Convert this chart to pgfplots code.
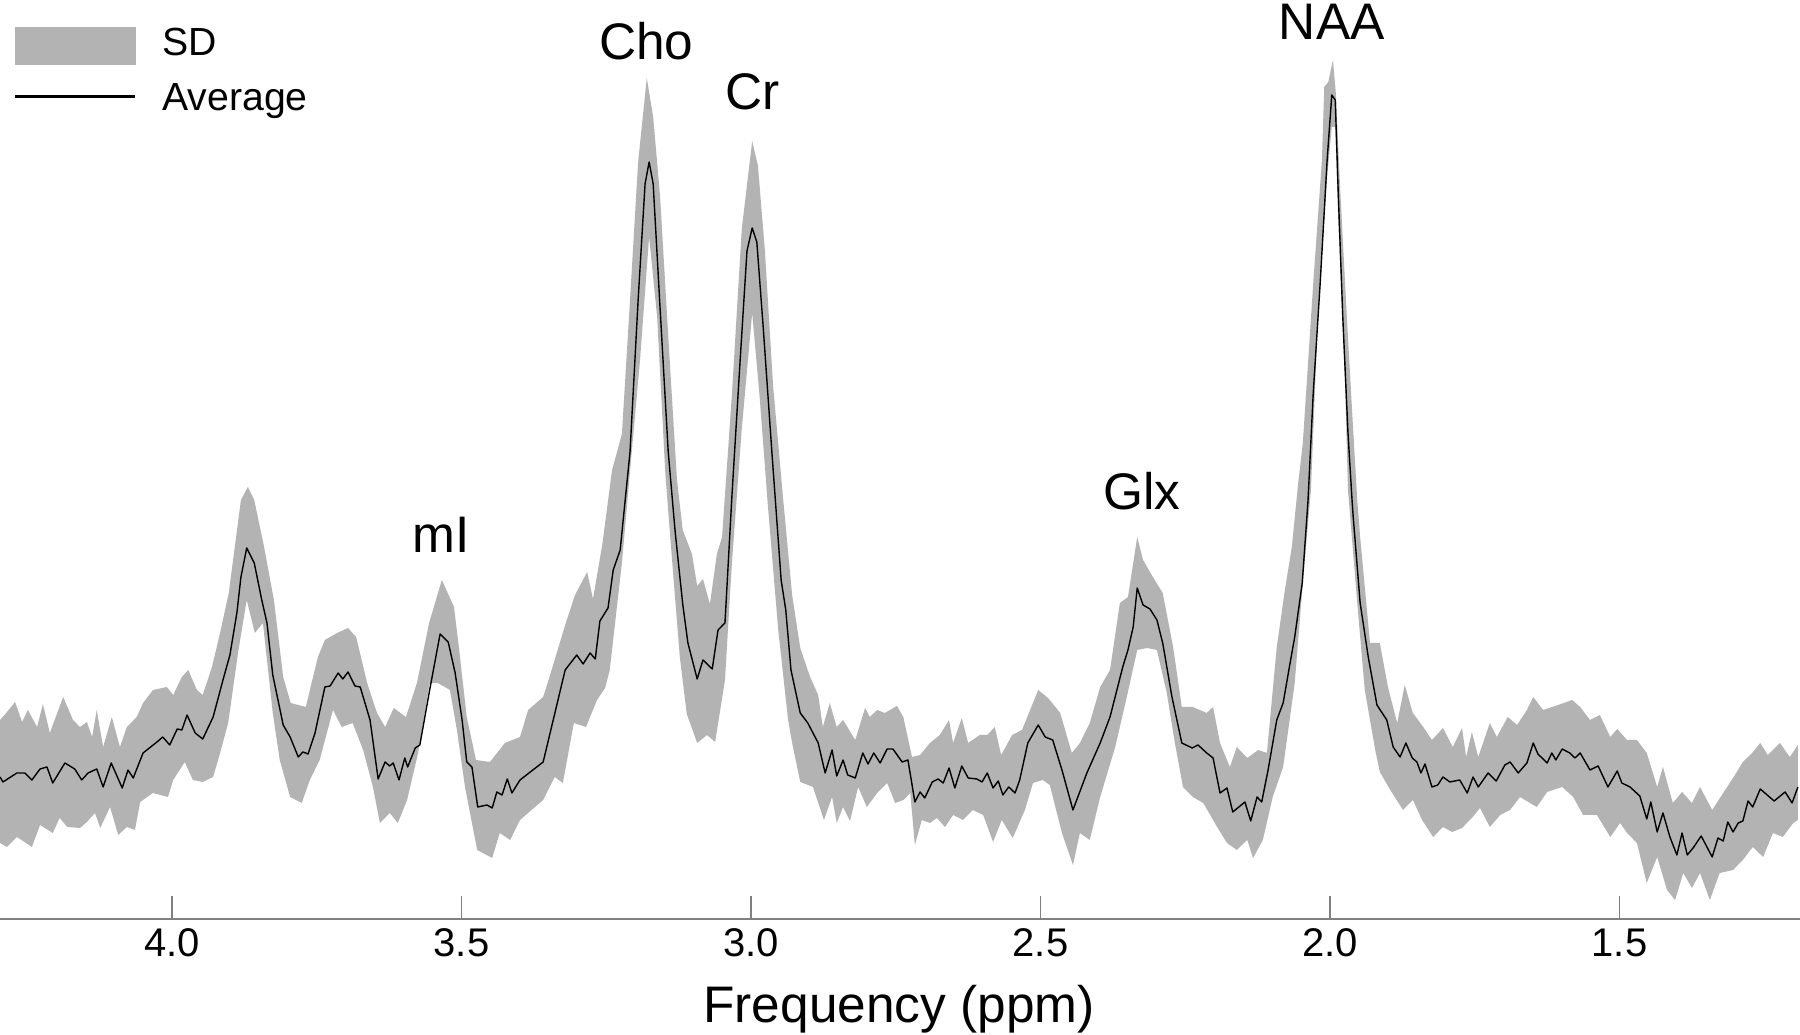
\documentclass[border=0pt]{standalone}
\usepackage{fontspec}
\setmainfont{Liberation Sans}
\usepackage{pgfplots}
\pgfplotsset{compat=1.18}
\usepgfplotslibrary{fillbetween}
\definecolor{bandgray}{RGB}{179,179,179}
\definecolor{axgray}{RGB}{128,128,128}
\begin{document}
\begin{tikzpicture}
\begin{axis}[
  at={(0,0)}, anchor=south west,
  scale only axis, width=450pt, height=229.75pt,
  xmin=1.1883, xmax=4.2971, ymin=0, ymax=919,
  x dir=reverse,
  hide y axis,
  axis x line=bottom,
  x axis line style={-, draw=axgray, line width=0.55pt},
  xtick={1.5,2.0,2.5,3.0,3.5,4.0},
  xtick style={draw=axgray, line width=0.45pt},
  major tick length=5.75pt, tick align=inside,
  /pgf/number format/assume math mode=true,
  xticklabel={\pgfmathprintnumber[fixed,fixed zerofill,precision=1]{\tick}},
  xticklabel style={anchor=base, yshift=-9.5pt, font=\fontsize{10}{12}\selectfont, inner sep=0pt},
  xlabel={Frequency (ppm)},
  xlabel style={at={(rel axis cs:0.4995,0)}, anchor=base, yshift=-26pt, font=\fontsize{12.85}{14}\selectfont, inner sep=0pt},
  clip=false,
  legend style={at={(rel axis cs:0,1)}, anchor=north west, xshift=3.5pt, yshift=-6.75pt,
    draw=none, fill=none, inner sep=0pt, outer sep=0pt,
    row sep=4.5pt, column sep=6.4pt,
    font=\fontsize{9.8}{11}\selectfont,
    nodes={inner sep=0pt, text height=7pt, text depth=0pt}},
  legend cell align=left,
]
\addlegendimage{legend image code/.code={\fill[bandgray] (0pt,-5.5pt) rectangle (30pt,3.5pt);}}
\addlegendentry{SD}
\addlegendimage{legend image code/.code={\draw[black, line width=0.7pt] (0pt,0pt) -- (30pt,0pt);}}
\addlegendentry{Average}

\addplot[name path=up, draw=none, forget plot] table {
4.297 199
4.285 207
4.271 217
4.259 197
4.249 209
4.233 192
4.223 215
4.211 186
4.188 222
4.171 199
4.159 192
4.147 197
4.138 182
4.130 209
4.119 172
4.104 202
4.090 172
4.078 192
4.061 202
4.050 216
4.033 229
4.009 232
3.998 224
3.983 242
3.972 249
3.957 229
3.947 224
3.931 252
3.917 286
3.902 326
3.881 419
3.869 432
3.858 419
3.841 372
3.824 319
3.808 242
3.795 216
3.769 212
3.748 262
3.736 279
3.715 286
3.696 291
3.682 282
3.663 236
3.646 206
3.632 192
3.617 211
3.596 202
3.577 236
3.556 296
3.534 339
3.513 312
3.504 269
3.491 202
3.475 159
3.451 157
3.425 176
3.399 182
3.385 209
3.359 222
3.347 244
3.321 294
3.304 324
3.283 347
3.273 320
3.257 374
3.240 449
3.223 485
3.209 619
3.195 757
3.180 841
3.169 802
3.157 722
3.143 583
3.128 440
3.118 389
3.102 365
3.093 333
3.083 340
3.071 315
3.059 365
3.050 382
3.033 525
3.016 690
2.998 778
2.988 753
2.976 668
2.962 534
2.945 423
2.929 324
2.915 271
2.898 242
2.884 224
2.876 192
2.864 216
2.852 192
2.841 199
2.820 179
2.803 211
2.795 202
2.782 209
2.769 206
2.748 213
2.737 202
2.722 162
2.708 164
2.691 176
2.674 184
2.658 199
2.651 176
2.636 201
2.625 176
2.605 184
2.592 184
2.579 192
2.568 164
2.549 184
2.532 189
2.518 209
2.504 229
2.487 221
2.466 206
2.446 166
2.432 176
2.415 196
2.397 232
2.380 249
2.363 316
2.349 322
2.333 382
2.323 359
2.306 342
2.289 326
2.271 272
2.256 212
2.237 212
2.213 206
2.202 212
2.190 176
2.173 152
2.161 172
2.143 161
2.124 169
2.109 166
2.092 272
2.078 329
2.066 372
2.055 436
2.047 476
2.029 636
2.014 759
2.010 832
2.003 837
1.995 859
1.990 826
1.983 736
1.971 602
1.960 489
1.953 419
1.948 382
1.931 276
1.914 276
1.900 232
1.884 196
1.871 234
1.857 206
1.839 192
1.824 179
1.805 191
1.788 172
1.772 191
1.765 162
1.755 187
1.744 162
1.724 196
1.712 182
1.693 202
1.677 194
1.660 209
1.649 222
1.632 209
1.606 214
1.582 219
1.568 212
1.551 199
1.534 204
1.516 182
1.504 190
1.487 179
1.470 179
1.453 166
1.435 132
1.425 152
1.408 116
1.392 127
1.375 116
1.361 132
1.340 109
1.321 126
1.304 141
1.287 157
1.271 166
1.257 176
1.244 164
1.223 176
1.206 162
1.192 174
};
\addplot[name path=lo, draw=none, forget plot] table {
4.297 76
4.285 72
4.268 82
4.242 72
4.228 94
4.206 86
4.194 101
4.181 92
4.159 91
4.147 97
4.133 106
4.124 91
4.107 112
4.093 84
4.078 92
4.064 89
4.055 117
4.033 126
4.007 122
3.998 139
3.978 157
3.964 139
3.947 137
3.929 142
3.917 166
3.903 196
3.886 266
3.871 319
3.857 286
3.843 296
3.826 206
3.814 159
3.796 122
3.776 116
3.762 139
3.745 159
3.722 209
3.707 192
3.688 196
3.670 169
3.653 132
3.641 96
3.624 106
3.610 96
3.594 119
3.575 166
3.555 236
3.541 236
3.520 229
3.508 189
3.494 132
3.473 69
3.447 61
3.434 86
3.416 79
3.399 99
3.359 119
3.339 142
3.325 136
3.306 196
3.285 192
3.266 219
3.252 231
3.244 249
3.223 356
3.206 467
3.192 557
3.176 682
3.162 601
3.148 445
3.136 356
3.123 262
3.111 205
3.093 176
3.076 184
3.062 177
3.054 206
3.045 239
3.033 356
3.016 490
2.998 606
2.985 521
2.971 414
2.953 289
2.936 199
2.929 176
2.915 137
2.893 132
2.874 99
2.860 122
2.852 96
2.841 112
2.829 98
2.815 132
2.800 112
2.782 126
2.765 136
2.751 116
2.737 119
2.725 126
2.717 74
2.705 99
2.691 96
2.679 101
2.665 92
2.651 104
2.634 99
2.617 109
2.599 104
2.582 77
2.567 99
2.548 81
2.527 109
2.513 136
2.496 139
2.484 134
2.463 86
2.444 54
2.432 86
2.415 79
2.397 122
2.371 172
2.351 222
2.333 269
2.316 271
2.299 269
2.282 226
2.268 176
2.254 132
2.237 122
2.219 116
2.195 92
2.178 76
2.161 69
2.143 79
2.133 61
2.116 79
2.099 122
2.081 152
2.061 236
2.047 336
2.033 429
2.021 602
2.005 742
1.997 792
1.991 792
1.986 702
1.974 536
1.969 429
1.953 316
1.940 229
1.922 169
1.914 147
1.896 129
1.874 109
1.857 119
1.841 99
1.822 82
1.805 92
1.789 87
1.772 91
1.755 101
1.741 111
1.724 92
1.706 104
1.689 109
1.672 122
1.643 112
1.625 127
1.599 132
1.580 122
1.563 104
1.539 104
1.516 82
1.499 96
1.487 86
1.470 76
1.453 36
1.435 62
1.418 29
1.404 19
1.390 46
1.375 31
1.361 46
1.344 19
1.327 46
1.304 49
1.287 59
1.270 72
1.252 62
1.235 86
1.218 82
1.200 96
1.192 99
};
\addplot[fill=bandgray, draw=none, forget plot] fill between[of=up and lo];

\addplot[black, line width=0.35pt, line join=round, forget plot] table {
4.297 142
4.292 137
4.268 146
4.254 146
4.242 139
4.228 150
4.216 152
4.206 136
4.185 156
4.168 150
4.156 139
4.145 146
4.130 150
4.119 132
4.105 156
4.086 131
4.076 149
4.067 141
4.050 166
4.026 177
4.016 182
4.004 174
3.991 190
3.983 189
3.974 204
3.960 186
3.947 180
3.929 202
3.912 239
3.900 264
3.888 306
3.881 342
3.871 371
3.858 356
3.845 319
3.836 296
3.826 244
3.808 194
3.796 182
3.782 162
3.774 167
3.765 165
3.753 186
3.736 232
3.727 233
3.713 246
3.705 240
3.696 247
3.684 233
3.675 232
3.658 199
3.644 140
3.632 157
3.624 153
3.618 156
3.608 139
3.598 161
3.593 152
3.580 171
3.572 174
3.555 229
3.537 285
3.523 277
3.511 246
3.499 199
3.491 157
3.482 152
3.472 112
3.456 114
3.447 111
3.439 127
3.430 124
3.421 140
3.413 126
3.399 139
3.359 157
3.347 186
3.321 249
3.301 264
3.290 255
3.278 266
3.269 260
3.261 298
3.247 311
3.238 349
3.226 369
3.209 467
3.195 619
3.183 735
3.176 757
3.169 735
3.157 610
3.143 467
3.131 387
3.118 315
3.109 276
3.093 240
3.083 259
3.067 250
3.057 289
3.045 296
3.033 423
3.019 557
3.007 668
2.998 691
2.990 677
2.979 592
2.964 467
2.948 339
2.940 309
2.931 249
2.915 206
2.902 196
2.884 176
2.872 146
2.860 169
2.852 143
2.841 159
2.833 144
2.820 141
2.807 166
2.798 155
2.788 166
2.777 156
2.765 170
2.755 170
2.739 157
2.729 159
2.717 117
2.708 127
2.700 121
2.687 137
2.677 140
2.668 136
2.658 151
2.648 131
2.636 153
2.625 141
2.610 140
2.601 137
2.592 146
2.582 131
2.573 138
2.565 124
2.555 132
2.544 126
2.536 139
2.522 176
2.504 194
2.492 182
2.479 179
2.463 149
2.444 109
2.420 146
2.397 176
2.380 202
2.358 252
2.349 269
2.340 292
2.333 331
2.323 314
2.311 310
2.299 299
2.289 276
2.273 222
2.256 176
2.238 171
2.228 174
2.213 166
2.202 161
2.190 126
2.178 131
2.168 107
2.147 117
2.137 98
2.126 122
2.118 117
2.107 149
2.092 199
2.081 216
2.069 256
2.061 282
2.048 336
2.040 402
2.038 419
2.029 526
2.017 636
2.005 759
1.997 824
1.991 819
1.986 729
1.978 602
1.969 486
1.962 419
1.960 402
1.948 316
1.934 262
1.919 214
1.902 199
1.891 172
1.879 162
1.869 176
1.858 161
1.850 157
1.843 146
1.836 155
1.824 132
1.814 134
1.805 142
1.793 137
1.776 139
1.763 126
1.753 142
1.744 132
1.727 146
1.713 138
1.698 154
1.689 157
1.675 146
1.660 156
1.649 176
1.641 165
1.625 156
1.617 166
1.610 159
1.599 170
1.586 166
1.577 161
1.568 166
1.551 149
1.537 153
1.520 132
1.504 148
1.496 136
1.482 132
1.465 123
1.453 100
1.446 117
1.435 87
1.425 106
1.413 82
1.401 64
1.392 86
1.383 64
1.373 71
1.359 83
1.340 62
1.330 81
1.321 78
1.313 97
1.304 87
1.295 96
1.287 98
1.278 118
1.270 112
1.257 130
1.245 124
1.233 118
1.214 127
1.202 116
1.192 132
};

\node[anchor=base, font=\fontsize{12.85}{14}\selectfont, inner sep=0pt] at (axis cs:3.181,859) {Cho};
\node[anchor=base, font=\fontsize{12.85}{14}\selectfont, inner sep=0pt] at (axis cs:2.997,809) {Cr};
\node[anchor=base, font=\fontsize{12.85}{14}\selectfont, inner sep=0pt] at (axis cs:1.997,879) {NAA};
\node[anchor=base, font=\fontsize{12.85}{14}\selectfont, inner sep=0pt] at (axis cs:2.325,409) {Glx};
\node[anchor=base, font=\fontsize{12.85}{14}\selectfont, inner sep=0pt] at (axis cs:3.535,366) {mI};
\end{axis}
\pgfresetboundingbox
\useasboundingbox (0,-29pt) rectangle (450pt,229.75pt);
\end{tikzpicture}
\end{document}
